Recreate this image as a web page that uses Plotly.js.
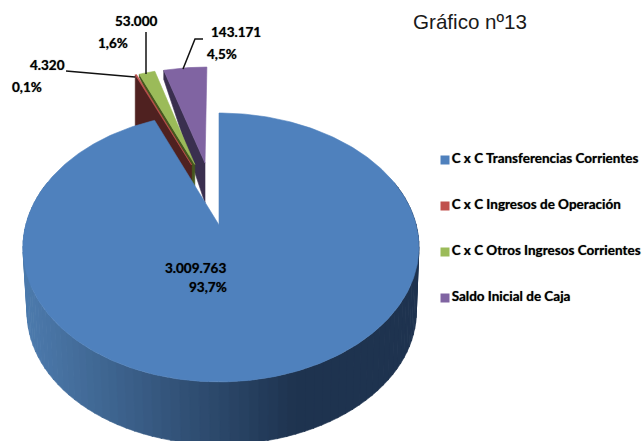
<!DOCTYPE html>
<html><head><meta charset="utf-8">
<script src="https://cdn.plot.ly/plotly-3.0.1.min.js"></script>
<style>html,body{margin:0;padding:0;background:#fff}#c{width:642px;height:441px}</style>
</head><body><div id="c"></div>
<script>
const categories = ["C x C Transferencias Corrientes","C x C Ingresos de Operación","C x C Otros Ingresos Corrientes","Saldo Inicial de Caja"];
const values = [3009763,4320,53000,143171];
const percents = ["93,7%","0,1%","1,6%","4,5%"];
const topColors = ["#4f81bd","#c0504d","#9bbb59","#8064a2"];
const wallColors = ["#1f3552","#4f2120","#46571f","#3a2f4f"];

// view geometry
const OX=219, OY=225, A=195.2, B=130.7, P=0.167, DEPTH=65;
const explodeAmount=[0,0.52,0.52,0.52], explodeDir=[0,-17,-15,-8.6];
const rimDepth=[0,62,3,9], apexDepth=[0,62,32,40];
const rad=d=>d*Math.PI/180;
function proj(u,v){const d=1+P*v;return [OX+A*u/d+2*u*u,OY-B*v/d];}

const total=values.reduce((a,b)=>a+b,0);
let acc=0; const spans=values.map(v=>{const s=acc/total*360;acc+=v;return [s,acc/total*360];});
function off(i){const e=explodeAmount[i],a=rad(explodeDir[i]);return [e*Math.sin(a),e*Math.cos(a)];}
function rim(i,deg){const o=off(i),a=rad(deg);return proj(o[0]+Math.sin(a),o[1]+Math.cos(a));}
function apex(i){const o=off(i);return proj(o[0],o[1]);}

function poly(pts,color){return {type:'scatter',mode:'lines',x:pts.map(p=>p[0]),y:pts.map(p=>p[1]),fill:'toself',fillcolor:color,line:{color:color,width:0.6},showlegend:false,hoverinfo:'skip'};}
function topFace(i){const [s,e]=spans[i];const pts=[apex(i)];const n=Math.max(2,Math.ceil((e-s)/1));for(let k=0;k<=n;k++)pts.push(rim(i,s+(e-s)*k/n));pts.push(apex(i));return poly(pts,topColors[i]);}
function leftWall(i){const a=apex(i),r=rim(i,spans[i][0]);return poly([r,a,[a[0],a[1]+apexDepth[i]],[r[0],r[1]+rimDepth[i]],r],wallColors[i]);}

const traces=[];
traces.push(leftWall(3),topFace(3),leftWall(2),topFace(2),leftWall(1),topFace(1));

function lower(p){return [219.8+(p[0]-219)*0.983,OY+(p[1]-OY)*0.985+DEPTH];}
function mix(a,b,t){return 'rgb('+a.map((c,i)=>Math.round(c+(b[i]-c)*t)).join(',')+')';}
const N=90;
for(let k=0;k<N;k++){
  const t0=70+k*(220/N), t1=t0+220/N+0.25;
  const p0=proj(Math.sin(rad(t0)),Math.cos(rad(t0))),p1=proj(Math.sin(rad(t1)),Math.cos(rad(t1)));
  const xm=(p0[0]+p1[0])/2;
  const f=Math.min(1,Math.max(0,(xm-26)/(295-26)));
  const c=mix([76,122,172],[30,51,79],f);
  traces.push(poly([p0,p1,lower(p1),lower(p0),p0],c));
}
traces.push(topFace(0));

const leaders=[[[66,71],[135,77]],[[146,32],[146,74]],[[203,39],[195,39],[183,69]]];
leaders.forEach(l=>traces.push({type:'scatter',mode:'lines',x:l.map(p=>p[0]),y:l.map(p=>p[1]),line:{color:'#111',width:1.5},showlegend:false,hoverinfo:'skip'}));

const legendY=[160,206,252,298];
const labelFont={family:'Lato,"Liberation Sans",sans-serif',size:13.5,color:'#000',weight:'bold',shadow:'0 0 1px rgba(0,0,0,0.6)'};
categories.forEach((c,i)=>traces.push({type:'scatter',mode:'markers+text',x:[445],y:[legendY[i]],marker:{symbol:'square',size:9,color:topColors[i]},text:[c],textposition:'middle right',textfont:labelFont,name:c,showlegend:false,hoverinfo:'skip'}));

const fmt=v=>String(v).replace(/\B(?=(\d{3})+$)/g,'.');
const valPos=[[195,268],[47,65],[136,21],[236,32]], pctPos=[[208,287],[27,87],[113,43],[222,54]];
const annotations=[];
values.forEach((v,i)=>{
  annotations.push({x:valPos[i][0],y:valPos[i][1],text:fmt(v),showarrow:false,font:labelFont,xref:'x',yref:'y'});
  annotations.push({x:pctPos[i][0],y:pctPos[i][1],text:percents[i],showarrow:false,font:labelFont,xref:'x',yref:'y'});
});
annotations.push({x:470,y:21,text:'Gráfico nº13',showarrow:false,xref:'x',yref:'y',font:{family:'"Liberation Sans",Arial,sans-serif',size:20.6,color:'#1a1a1a'}});

Plotly.newPlot('c',traces,{
  width:642,height:441,margin:{l:0,r:0,t:0,b:0},paper_bgcolor:'#fff',plot_bgcolor:'#fff',showlegend:false,
  xaxis:{range:[0,642],visible:false,fixedrange:true},
  yaxis:{range:[441,0],visible:false,fixedrange:true},
  annotations:annotations,hovermode:false
},{displayModeBar:false,staticPlot:true});
</script></body></html>
